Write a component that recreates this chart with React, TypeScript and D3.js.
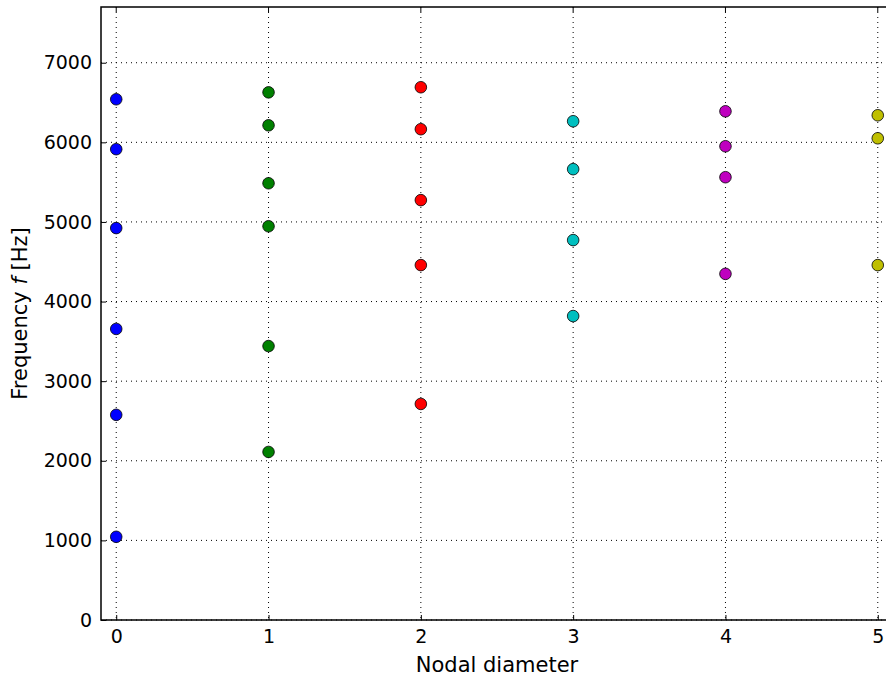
import React, { useEffect, useRef } from "react";
import * as d3 from "d3";

// nodal diameter groups and their natural frequencies [Hz]
const diameters = [0, 1, 2, 3, 4, 5];
const freqs0 = [6541, 5914, 4923, 3656, 2577, 1045];
const freqs1 = [6628, 6214, 5486, 4946, 3441, 2111];
const freqs2 = [6692, 6165, 5274, 4458, 2714];
const freqs3 = [6265, 5663, 4772, 3818];
const freqs4 = [6390, 5951, 5562, 4348];
const freqs5 = [6340, 6051, 4458];
const colors = ["#0000ff", "#008000", "#ff0000", "#00bfbf", "#bf00bf", "#bfbf00"];

const xTicks = [0, 1, 2, 3, 4, 5];
const yTicks = [0, 1000, 2000, 3000, 4000, 5000, 6000, 7000];

export default function App() {
    const ref = useRef<SVGSVGElement>(null);

    useEffect(() => {
        const W = 886, H = 682;
        const margin = { top: 7, right: 0, bottom: 62, left: 101 };
        const height = H - margin.top - margin.bottom;

        const svg = d3.select(ref.current);
        svg.selectAll("*").remove();
        const g = svg.append("g").attr("transform", `translate(${margin.left},${margin.top})`);

        const x = d3.scaleLinear().domain([-0.1, 5.1]).range([0, 792]);
        const y = d3.scaleLinear().domain([0, 7700]).range([height, 0]);

        const font = "'DejaVu Sans', sans-serif";

        // grid
        g.append("g").selectAll("line")
            .data(xTicks)
            .join("line")
            .attr("x1", d => x(d)).attr("x2", d => x(d))
            .attr("y1", 0).attr("y2", height)
            .attr("stroke", "#000").attr("stroke-width", 1)
            .attr("stroke-dasharray", "1,4");
        g.append("g").selectAll("line")
            .data(yTicks)
            .join("line")
            .attr("x1", 0).attr("x2", 792)
            .attr("y1", d => y(d)).attr("y2", d => y(d))
            .attr("stroke", "#000").attr("stroke-width", 1)
            .attr("stroke-dasharray", "1,4");

        // points
        const groups = [freqs0, freqs1, freqs2, freqs3, freqs4, freqs5];
        groups.forEach((vals, i) => {
            g.append("g").selectAll("circle")
                .data(vals)
                .join("circle")
                .attr("cx", x(diameters[i]))
                .attr("cy", d => y(d))
                .attr("r", 5.8)
                .attr("fill", colors[i])
                .attr("stroke", "#000")
                .attr("stroke-width", 0.8);
        });

        // frame
        g.append("rect")
            .attr("x", 0).attr("y", 0)
            .attr("width", 792).attr("height", height)
            .attr("fill", "none").attr("stroke", "#000").attr("stroke-width", 1.5);

        // inward ticks
        const xAxis = g.append("g").attr("transform", `translate(0,${height})`)
            .call(d3.axisBottom(x).tickValues(xTicks).tickSizeInner(-5).tickSizeOuter(0).tickPadding(10).tickFormat(d3.format("d")));
        const yAxis = g.append("g")
            .call(d3.axisLeft(y).tickValues(yTicks).tickSizeInner(-5).tickSizeOuter(0).tickPadding(9).tickFormat(d3.format("d")));
        [xAxis, yAxis].forEach(a => {
            a.select(".domain").remove();
            a.selectAll("line").attr("stroke", "#000");
            a.selectAll("text").attr("font-family", font).attr("font-size", 19).attr("fill", "#000");
        });
        g.append("g").selectAll("line")
            .data(yTicks)
            .join("line")
            .attr("x1", 792).attr("x2", 787)
            .attr("y1", d => y(d)).attr("y2", d => y(d))
            .attr("stroke", "#000");
        g.append("g").selectAll("line")
            .data(xTicks)
            .join("line")
            .attr("x1", d => x(d)).attr("x2", d => x(d))
            .attr("y1", 0).attr("y2", 5)
            .attr("stroke", "#000");

        // axis labels
        g.append("text")
            .attr("x", 396).attr("y", height + 52)
            .attr("text-anchor", "middle")
            .attr("font-family", font).attr("font-size", 21)
            .text("Nodal diameter");

        const yl = g.append("text")
            .attr("transform", `translate(${-74},${height / 2}) rotate(-90)`)
            .attr("text-anchor", "middle")
            .attr("font-family", font).attr("font-size", 21);
        yl.append("tspan").text("Frequency ");
        yl.append("tspan").attr("font-style", "italic").text("f");
        yl.append("tspan").text(" [Hz]");
    }, []);

    return (
        <div style={{ position: "absolute", left: 0, top: 0 }}>
            <svg ref={ref} width={886} height={682} style={{ display: "block", background: "#fff" }} />
        </div>
    );
}
